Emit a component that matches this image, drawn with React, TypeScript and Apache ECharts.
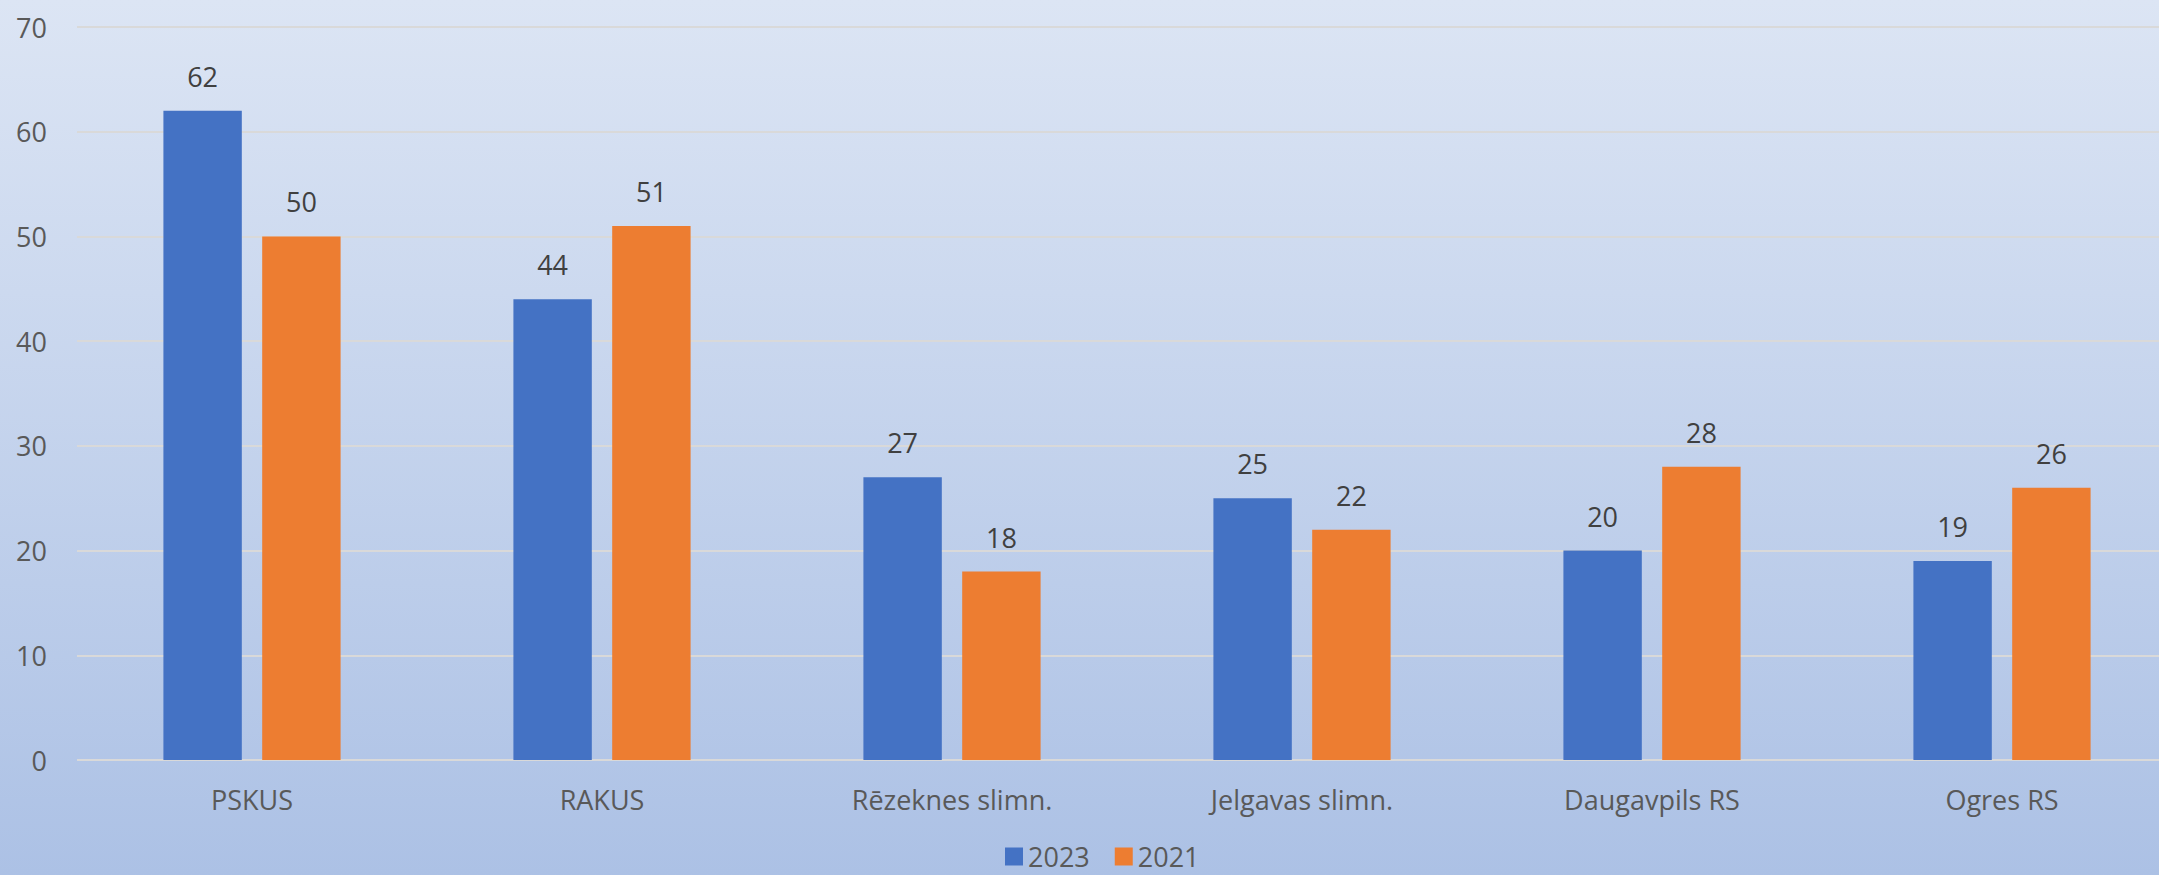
import React, { useEffect, useRef } from "react";
import * as echarts from "echarts";

const categories = ["PSKUS", "RAKUS", "Rēzeknes slimn.", "Jelgavas slimn.", "Daugavpils RS", "Ogres RS"];
const series2023 = [62, 44, 27, 25, 20, 19];
const series2021 = [50, 51, 18, 22, 28, 26];
const yTicks = { min: 0, max: 70, interval: 10 };

const FONT = "'Open Sans', 'Noto Sans', sans-serif";

export default function App() {
  const ref = useRef<HTMLDivElement>(null);
  useEffect(() => {
    document.body.style.margin = "0";
    const chart = echarts.init(ref.current!, null, { renderer: "svg" });
    chart.setOption({
      animation: false,
      backgroundColor: {
        type: "linear",
        x: 0, y: 0, x2: 0, y2: 1,
        colorStops: [
          { offset: 0, color: "#DCE5F4" },
          { offset: 1, color: "#ACC1E5" },
        ],
      },
      textStyle: { fontFamily: FONT },
      grid: { left: 77, width: 2100, top: 27, bottom: 115, containLabel: false, outerBoundsMode: "none" },
      legend: {
        bottom: 0,
        left: 1000,
        itemWidth: 18,
        itemHeight: 18,
        itemGap: 25,
        icon: "rect",
        textStyle: { fontFamily: FONT, fontSize: 27, color: "#595959", padding: [0, 0, 0, 0] },
        data: ["2023", "2021"],
      },
      xAxis: {
        type: "category",
        data: categories,
        axisLine: { show: false },
        axisTick: { show: false },
        axisLabel: { fontFamily: FONT, fontSize: 27, color: "#595959", margin: 26 },
      },
      yAxis: {
        type: "value",
        min: yTicks.min,
        max: yTicks.max,
        interval: yTicks.interval,
        axisLine: { show: false },
        axisTick: { show: false },
        axisLabel: { fontFamily: FONT, fontSize: 27, color: "#595959", margin: 30 },
        splitLine: { lineStyle: { color: "#D9D9D9", width: 2 } },
      },
      series: [
        {
          name: "2023",
          type: "bar",
          data: series2023,
          barWidth: "22.4%",
          barGap: "26%",
          itemStyle: { color: "#4472C4" },
          label: { show: true, position: "top", distance: 21, fontFamily: FONT, fontSize: 27, color: "#404040" },
        },
        {
          name: "2021",
          type: "bar",
          data: series2021,
          barWidth: "22.4%",
          barGap: "26%",
          itemStyle: { color: "#ED7D31" },
          label: { show: true, position: "top", distance: 21, fontFamily: FONT, fontSize: 27, color: "#404040" },
        },
      ],
    });
    return () => chart.dispose();
  }, []);
  return <div ref={ref} style={{ width: 2159, height: 875 }} />;
}
